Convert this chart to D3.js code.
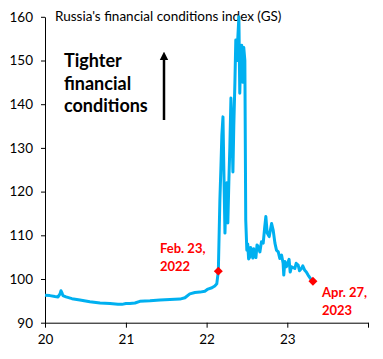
<!DOCTYPE html>
<html>
<head>
<meta charset="utf-8">
<script src="https://cdn.jsdelivr.net/npm/d3@7"></script>
<style>
  html, body { margin: 0; padding: 0; background: #fff; }
  svg { display: block; }
</style>
</head>
<body>
<svg id="chart" width="383" height="359"></svg>
<script>
// ---- data ----
const title = "Russia's financial conditions index (GS)";
const yTicks = [90, 100, 110, 120, 130, 140, 150, 160];
const xTickYears = [2020, 2021, 2022, 2023, 2024];
const xTickLabels = ["20", "21", "22", "23", ""];

const dates = [
  "2020-01-01","2020-01-23","2020-02-15","2020-02-29","2020-03-09","2020-03-13","2020-03-18","2020-03-22",
  "2020-04-05","2020-05-02","2020-06-07","2020-07-22","2020-09-06","2020-10-21","2020-11-26","2020-12-14",
  "2021-01-01","2021-01-19","2021-02-11","2021-03-05","2021-04-20","2021-06-04","2021-07-19","2021-09-02",
  "2021-09-25","2021-10-17","2021-11-09","2021-12-02","2021-12-24","2022-01-07","2022-01-25","2022-02-07",
  "2022-02-16","2022-02-23",
  "2022-03-02","2022-03-07","2022-03-11","2022-03-16","2022-03-20","2022-03-25","2022-03-29","2022-04-03",
  "2022-04-07","2022-04-12","2022-04-16","2022-04-21","2022-04-25","2022-04-30","2022-05-04","2022-05-09",
  "2022-05-13","2022-05-18","2022-05-22","2022-05-27","2022-05-31","2022-06-05","2022-06-09","2022-06-14",
  "2022-06-18","2022-06-23","2022-06-27","2022-07-02","2022-07-06","2022-07-10","2022-07-15","2022-07-19",
  "2022-07-23","2022-07-29","2022-08-02","2022-08-07","2022-08-12","2022-08-17","2022-08-22","2022-08-30",
  "2022-09-06","2022-09-14","2022-09-21","2022-09-26","2022-10-02","2022-10-11","2022-10-22","2022-10-29",
  "2022-11-06","2022-11-13","2022-11-21","2022-11-28","2022-12-06","2022-12-13","2022-12-16","2022-12-21",
  "2022-12-28","2023-01-09","2023-01-14","2023-01-20","2023-02-04","2023-02-10","2023-02-19","2023-02-25",
  "2023-03-06","2023-03-12","2023-03-21","2023-03-28","2023-04-05","2023-04-20","2023-04-27"
];
const values = [
  96.3, 96.2, 96.0, 95.9, 96.6, 97.3, 96.8, 96.2,
  95.9, 95.5, 95.2, 94.8, 94.5, 94.4, 94.2, 94.2,
  94.4, 94.4, 94.5, 94.9, 95.0, 95.2, 95.3, 95.4,
  95.7, 96.6, 96.9, 97.0, 97.2, 97.7, 98.0, 98.4,
  98.9, 101.8,
  118, 126, 133, 137.1, 125, 110.5, 118, 122,
  112.8, 123, 130, 141.4, 135, 124.5, 135, 145,
  154.7, 150, 155, 160, 142.5, 152, 153.5, 145,
  153, 150, 113.5, 106.6, 108, 104.6, 105, 107.2,
  106.6, 104.8, 106.9, 106, 104.9, 107.8, 107.4, 106.2,
  108.5, 108.2, 112, 114.3, 110.5, 109.7, 112.7, 111.2,
  108.2, 106.6, 106.2, 104.7, 105.5, 103.6, 100.9, 104,
  102.8, 104.5, 101.6, 102.8, 102.4, 103.6, 103.2, 101.9,
  102.4, 103.0, 102, 101.6, 100.9, 99.8, 99.5
];

const markerDates = ["2022-02-23", "2023-04-27"];
const markerValues = [101.8, 99.5];
const markerLabels = [["Feb. 23,", "2022"], ["Apr. 27,", "2023"]];

const arrowLabel = ["Tighter", "financial", "conditions"];

// ---- layout ----
const parse = d3.timeParse("%Y-%m-%d");
const svg = d3.select("#chart");
const mLeft = 45, mRight = 368, mTop = 16.8, mBottom = 322.7;

const x = d3.scaleTime()
  .domain([new Date(2020, 0, 1), new Date(2024, 0, 1)])
  .range([mLeft, mRight]);
const y = d3.scaleLinear().domain([90, 160]).range([mBottom, mTop]);

const fontFam = "Lato, 'Open Sans', sans-serif";

// axes
const yAxis = d3.axisLeft(y).tickValues(yTicks).tickSize(4).tickSizeOuter(0).tickPadding(8);
const gy = svg.append("g").attr("transform", `translate(${mLeft},0)`).call(yAxis);
gy.selectAll("text").attr("font-family", fontFam).attr("font-size", 13.5).attr("fill", "#000");
gy.select(".domain").attr("stroke", "#000");
gy.selectAll(".tick line").attr("stroke", "#000");

const xAxis = d3.axisBottom(x)
  .tickValues(xTickYears.map(yr => new Date(yr, 0, 1)))
  .tickFormat((d, i) => xTickLabels[i])
  .tickSize(5).tickSizeOuter(0).tickPadding(7);
const gx = svg.append("g").attr("transform", `translate(0,${mBottom})`).call(xAxis);
gx.selectAll("text").attr("font-family", fontFam).attr("font-size", 13.5).attr("fill", "#000");
gx.select(".domain").attr("stroke", "#000");
gx.selectAll(".tick line").attr("stroke", "#000");

// title
svg.append("text").attr("x", 55).attr("y", 21)
  .attr("font-family", fontFam).attr("font-size", 13.5).attr("fill", "#000")
  .text(title);

// line
const series = dates.map((d, i) => ({ date: parse(d), value: values[i] }));
const line = d3.line().x(d => x(d.date)).y(d => y(d.value));
svg.append("path").datum(series)
  .attr("d", line)
  .attr("fill", "none")
  .attr("stroke", "#00B0F0")
  .attr("stroke-width", 3)
  .attr("stroke-linejoin", "round");

// markers
const markers = markerDates.map((d, i) => ({ date: parse(d), value: markerValues[i] }));
svg.selectAll(".marker").data(markers).enter().append("path")
  .attr("class", "marker")
  .attr("d", d3.symbol().type(d3.symbolSquare).size(40))
  .attr("transform", d => `translate(${x(d.date)},${y(d.value)}) rotate(45)`)
  .attr("fill", "#FF0000");

// marker labels
const labelPos = [[160, 253, 271], [322, 297, 315]];
markerLabels.forEach((lines, i) => {
  lines.forEach((t, j) => {
    svg.append("text").attr("x", labelPos[i][0]).attr("y", labelPos[i][1 + j])
      .attr("font-family", fontFam).attr("font-size", 13).attr("font-weight", "bold")
      .attr("fill", "#FF0000").text(t);
  });
});

// arrow label
const arrowY = [67, 90, 112];
arrowLabel.forEach((t, j) => {
  svg.append("text").attr("x", 64).attr("y", arrowY[j])
    .attr("font-family", fontFam).attr("font-size", 18).attr("font-weight", "bold")
    .attr("fill", "#000").text(t);
});

// arrow
svg.append("defs").append("marker")
  .attr("id", "arrowhead").attr("viewBox", "0 0 10 10")
  .attr("refX", 5).attr("refY", 5).attr("markerWidth", 3.5).attr("markerHeight", 4)
  .attr("orient", "auto-start-reverse")
  .append("path").attr("d", "M0,0 L10,5 L0,10 z").attr("fill", "#000");
svg.append("line").attr("x1", 164).attr("x2", 164).attr("y1", 120).attr("y2", 56)
  .attr("stroke", "#000").attr("stroke-width", 2.5).attr("marker-end", "url(#arrowhead)");
</script>
</body>
</html>
